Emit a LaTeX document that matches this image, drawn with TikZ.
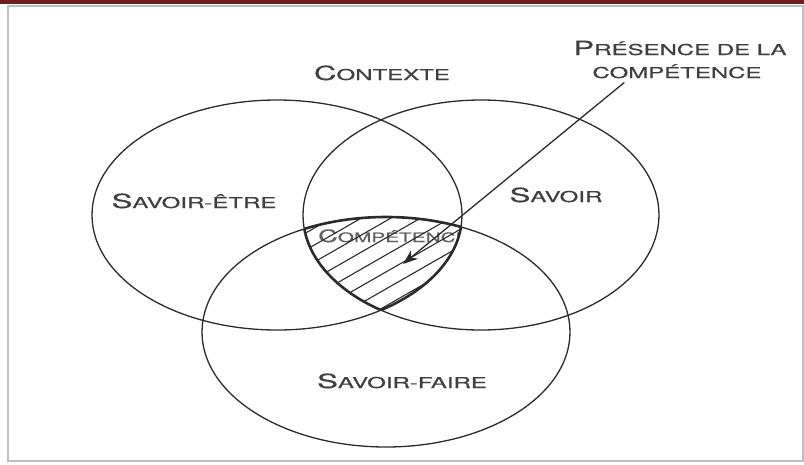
\documentclass[tikz,border=0pt]{standalone}
\usepackage{fontspec}
\usepackage{xcolor}
\usepackage{tikz}
\usetikzlibrary{arrows.meta, positioning, calc}

\newfontfamily\vennfont[FakeStretch=1.6, FakeBold=0.6]{TeX Gyre Heros}
\newcommand{\bigsc}[1]{{\fontsize{19.5}{20}\selectfont #1}}
\newcommand{\lenssc}[1]{{\fontsize{17}{18}\selectfont #1}}
\definecolor{barred}{HTML}{6E1F1F}
\definecolor{ink}{HTML}{2B2B2B}
\tikzset{
	set/.style={draw=ink, line width=1.3pt},
	setlabel/.style={text=ink!90, font=\vennfont\fontsize{15}{16}\selectfont, inner sep=0pt, anchor=base},
	hatch/.style={draw=ink, line width=1.1pt},
}

\begin{document}
\begin{tikzpicture}[x=1pt, y=-1pt, >=Stealth]
			\useasboundingbox (0,0) rectangle (804,464);
			% frame of the page
			\fill[barred] (0,0) rectangle (804,3.5);
			\draw[black!25, line width=1.5pt] (8,6) rectangle (803,461);
			% centres of the three sets
			\coordinate (etre) at (277,215);
			\coordinate (savoir) at (481,215);
			\coordinate (faire) at (386,332);
			\draw[set] (etre) ellipse [x radius=185pt, y radius=115pt];
			\draw[set] (savoir) ellipse [x radius=178pt, y radius=115pt];
			\draw[set] (faire) ellipse [x radius=184pt, y radius=115pt];
			% hatched intersection
			\begin{scope}
				\clip (etre) ellipse [x radius=185pt, y radius=115pt];
				\clip (savoir) ellipse [x radius=178pt, y radius=115pt];
				\clip (faire) ellipse [x radius=184pt, y radius=115pt];
				\node[setlabel, anchor=base west, text=ink!75, font=\vennfont\fontsize{13}{14}\selectfont] (lens) at (318,242) {\lenssc{C}OMPÉTENCE};
				\foreach \k in {0,...,13}
				\draw[hatch] (290,208+17*\k) -- ++(190,-109);
			\end{scope}
			% thick border of the intersection
			\begin{scope}
				\clip (savoir) ellipse [x radius=178pt, y radius=115pt];
				\clip (faire) ellipse [x radius=184pt, y radius=115pt];
				\draw[set, line width=2.6pt] (etre) ellipse [x radius=185pt, y radius=115pt];
			\end{scope}
			\begin{scope}
				\clip (etre) ellipse [x radius=185pt, y radius=115pt];
				\clip (faire) ellipse [x radius=184pt, y radius=115pt];
				\draw[set, line width=2.6pt] (savoir) ellipse [x radius=178pt, y radius=115pt];
			\end{scope}
			\begin{scope}
				\clip (etre) ellipse [x radius=185pt, y radius=115pt];
				\clip (savoir) ellipse [x radius=178pt, y radius=115pt];
				\draw[set, line width=2.6pt] (faire) ellipse [x radius=184pt, y radius=115pt];
			\end{scope}
			% labels
			\node[setlabel] (contexte) at (382,80) {\bigsc{C}ONTEXTE};
			\node[setlabel] (etrelabel) at (194,208) {\bigsc{S}AVOIR-ÊTRE};
			\node[setlabel] (savoirlabel) at (556,202) {\bigsc{S}AVOIR};
			\node[setlabel] (fairelabel) at (402,388) {\bigsc{S}AVOIR-FAIRE};
			\node[setlabel] (presence) at (680,55) {\bigsc{P}RÉSENCE DE LA};
			\node[setlabel] (competence) at (677,78) {COMPÉTENCE};
			% arrow to the intersection
			\coordinate (arrowstart) at ($(competence.south west)+(32,4)$);
			\coordinate (arrowtip) at (403,264);
			\draw[ink, line width=1.3pt, -{Stealth[length=15pt, width=11pt]}] (arrowstart) -- (arrowtip);
		\end{tikzpicture}
\end{document}
